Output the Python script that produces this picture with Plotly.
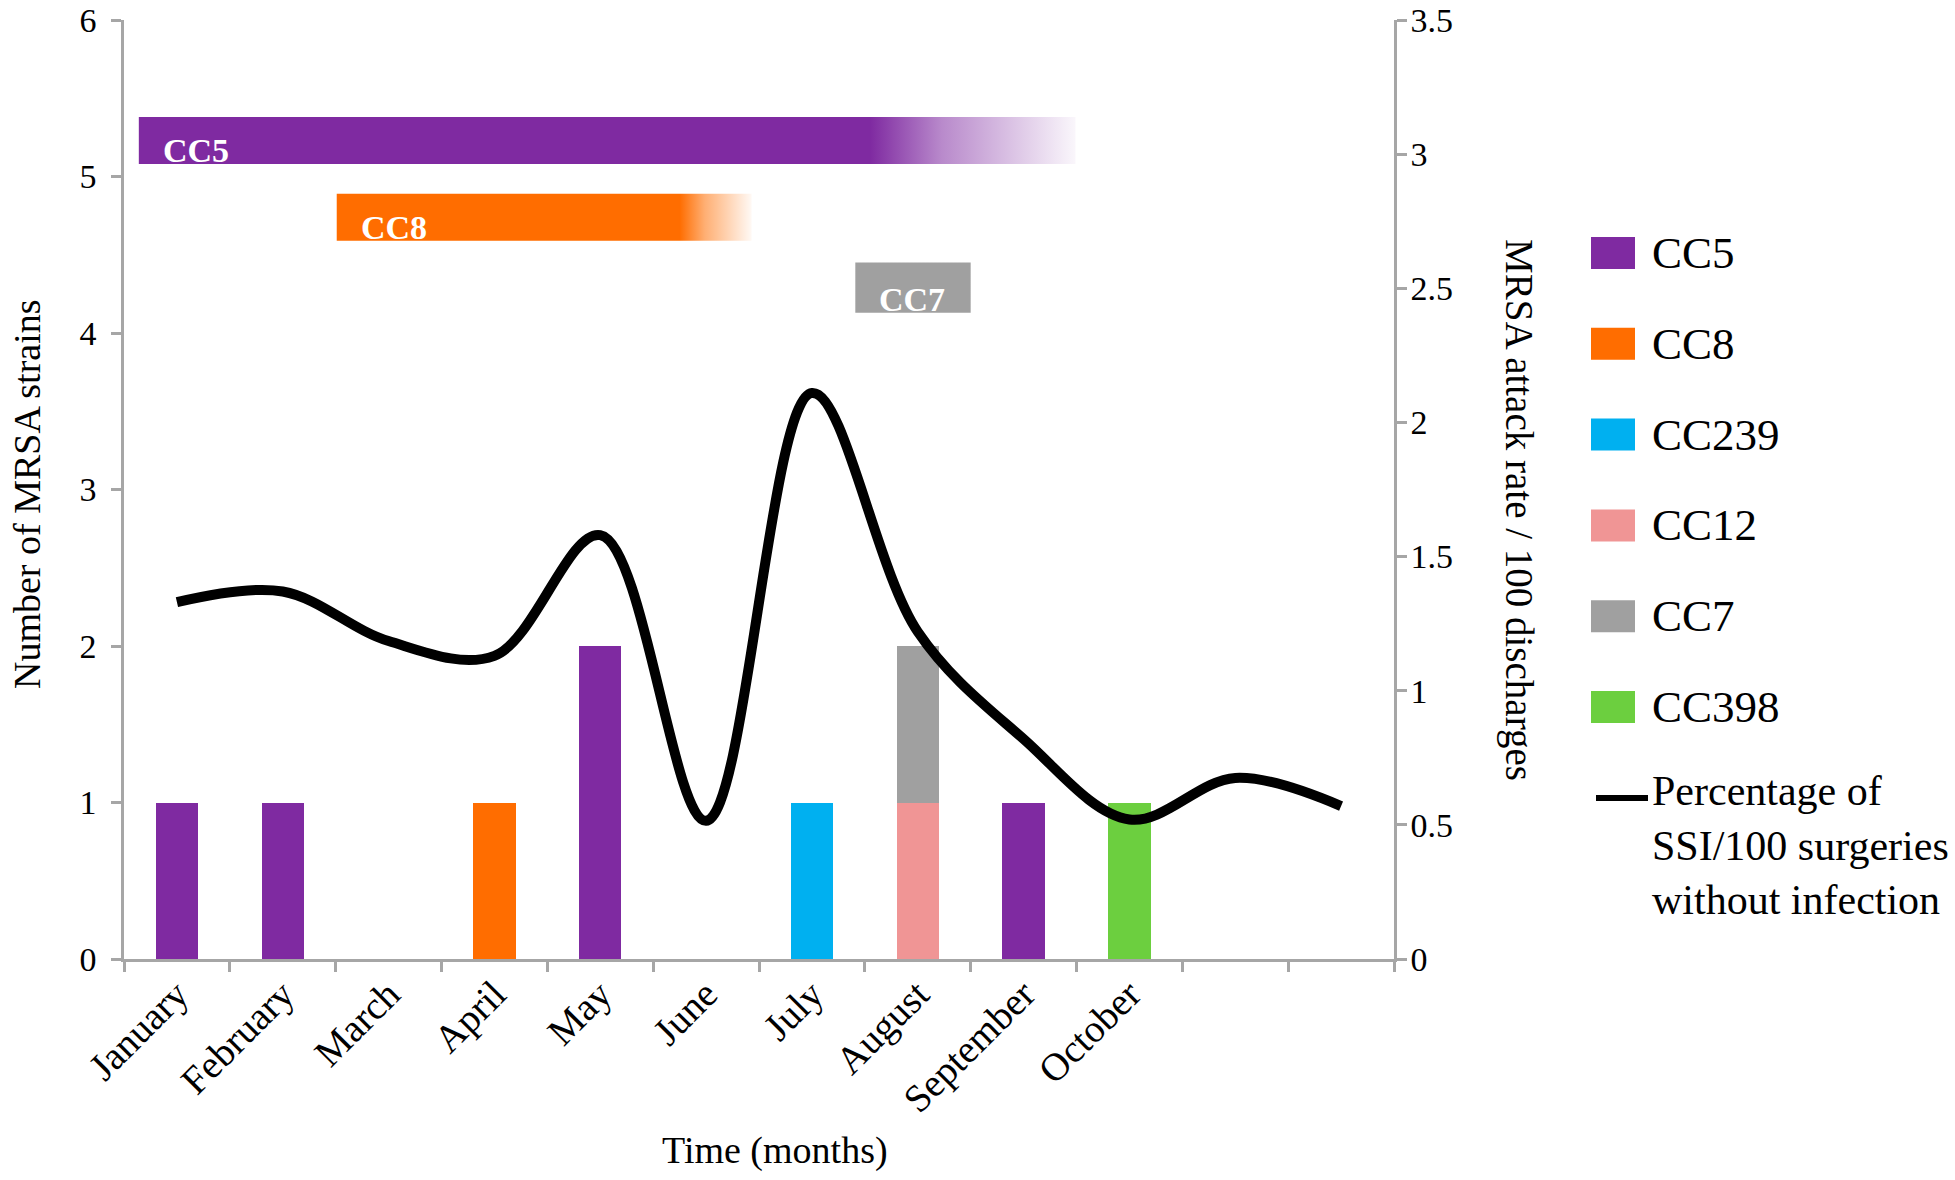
import plotly.graph_objects as go

# ---------------- data ----------------
months = ["January", "February", "March", "April", "May", "June", "July",
          "August", "September", "October", "November", "December"]
month_labels = ["January", "February", "March", "April", "May", "June", "July",
                "August", "September", "October", "", ""]

strains = ["CC5", "CC8", "CC239", "CC12", "CC7", "CC398"]
strain_colors = ["#7F2AA1", "#FF6D00", "#00B0F0", "#F09595", "#A0A0A0", "#6CCF3F"]

cc5 = [1, 1, 0, 0, 2, 0, 0, 0, 1, 0, 0, 0]
cc8 = [0, 0, 0, 1, 0, 0, 0, 0, 0, 0, 0, 0]
cc239 = [0, 0, 0, 0, 0, 0, 1, 0, 0, 0, 0, 0]
cc12 = [0, 0, 0, 0, 0, 0, 0, 1, 0, 0, 0, 0]
cc7 = [0, 0, 0, 0, 0, 0, 0, 1, 0, 0, 0, 0]
cc398 = [0, 0, 0, 0, 0, 0, 0, 0, 0, 1, 0, 0]
strain_counts = [cc5, cc8, cc239, cc12, cc7, cc398]

ssi_rate = [1.33, 1.37, 1.185, 1.13, 1.58, 0.515, 2.11, 1.22, 0.82, 0.52, 0.675, 0.57]
line_name = "Percentage of<br>SSI/100 surgeries<br>without infection"

# circulation periods of the strains (x: month index, y: left-axis units)
tl_names = ["CC5", "CC8", "CC7"]
tl_rgb = [(127, 42, 161), (255, 109, 0), (160, 160, 160)]
tl_start = [-0.36, 1.51, 6.41]
tl_solid_end = [6.55, 4.75, 7.50]
tl_end = [8.49, 5.43, 7.50]
tl_low = [5.08, 4.59, 4.13]
tl_high = [5.38, 4.89, 4.45]

# ---------------- layout helpers ----------------
L, R, T, B = 124, 1394, 20, 959
W, H = 1955, 1180
def px(x):
    return (x - L) / (R - L)
def py(y):
    return (B - y) / (B - T)

FONT = "Liberation Serif"
AX = "#A6A6A6"

fig = go.Figure()

for name, vals, col in zip(strains, strain_counts, strain_colors):
    fig.add_trace(go.Bar(x=months, y=vals, name=name, marker_color=col,
                         marker_line_width=0, xaxis="x", yaxis="y"))

for i, name in enumerate(tl_names):
    r, g, b = tl_rgb[i]
    c = f"rgba({r},{g},{b},1)"
    span = tl_end[i] - tl_start[i]
    frac = (tl_solid_end[i] - tl_start[i]) / span
    if frac >= 0.999:
        scale = [[0, c], [1, c]]
    else:
        scale = [[0, c], [frac, c], [frac + (1 - frac) * 0.35, f"rgba({r},{g},{b},0.55)"],
                 [1, f"rgba({r},{g},{b},0.04)"]]
    fig.add_trace(go.Scatter(
        x=[tl_start[i], tl_end[i], tl_end[i], tl_start[i], tl_start[i]],
        y=[tl_low[i], tl_low[i], tl_high[i], tl_high[i], tl_low[i]],
        fill="toself", mode="lines", line=dict(width=0),
        fillgradient=dict(type="horizontal", colorscale=scale),
        xaxis="x2", yaxis="y", showlegend=False, hoverinfo="skip"))
    fig.add_annotation(x=tl_start[i], y=tl_low[i], xref="x2", yref="y",
                       text=f"<b>{name}</b>", showarrow=False, xanchor="left",
                       yanchor="bottom", xshift=22, yshift=-7,
                       font=dict(family=FONT, size=34, color="white"))

fig.add_trace(go.Scatter(x=months, y=ssi_rate, mode="lines",
                         line=dict(color="black", width=10, shape="spline", smoothing=1.0),
                         xaxis="x", yaxis="y2", name="SSI"))

# ---------------- manual legend ----------------
for i, (name, col) in enumerate(zip(strains, strain_colors)):
    cy = 253 + 90.8 * i
    fig.add_shape(type="rect", xref="paper", yref="paper",
                  x0=px(1591), x1=px(1635), y0=py(cy + 16), y1=py(cy - 16),
                  fillcolor=col, line=dict(width=0))
    fig.add_annotation(xref="paper", yref="paper", x=px(1650), y=py(cy),
                       text=name, showarrow=False, xanchor="left", yanchor="middle",
                       font=dict(family=FONT, size=45, color="black"))
fig.add_shape(type="line", xref="paper", yref="paper",
              x0=px(1596), x1=px(1648), y0=py(798), y1=py(798),
              line=dict(color="black", width=6))
fig.add_annotation(xref="paper", yref="paper", x=px(1650), y=py(845),
                   text=line_name, showarrow=False, xanchor="left", yanchor="middle",
                   align="left", font=dict(family=FONT, size=42, color="black"))

# ---------------- axis titles ----------------
fig.add_annotation(xref="paper", yref="paper", x=px(27), y=py(494),
                   xanchor="center", yanchor="middle",
                   text="Number of MRSA strains", textangle=-90, showarrow=False,
                   font=dict(family=FONT, size=38, color="black"))
fig.add_annotation(xref="paper", yref="paper", x=px(1519), y=py(510),
                   xanchor="center", yanchor="middle",
                   text="MRSA attack rate / 100 discharges", textangle=90, showarrow=False,
                   font=dict(family=FONT, size=39, color="black"))
fig.add_annotation(xref="paper", yref="paper", x=px(775), y=py(1150),
                   xanchor="center", yanchor="middle",
                   text="Time (months)", showarrow=False,
                   font=dict(family=FONT, size=38, color="black"))

axis_common = dict(showline=True, linecolor=AX, linewidth=2.5, ticks="outside",
                   ticklen=10, tickwidth=2.5, tickcolor=AX, showgrid=False,
                   zeroline=False, ticklabeloverflow="allow")

fig.update_layout(
    width=W, height=H, barmode="stack", bargap=0.6,
    margin=dict(l=L, r=W - R, t=T, b=H - B, autoexpand=False),
    plot_bgcolor="white", paper_bgcolor="white", showlegend=False,
    font=dict(family=FONT, color="black"),
    xaxis=dict(type="category", categoryorder="array", categoryarray=months,
               tickmode="array", tickvals=months, ticktext=month_labels,
               tickangle=-45, tickson="boundaries", range=[-0.5, 11.5],
               ticklabelstandoff=-6,
               tickfont=dict(family=FONT, size=39, color="black"), **axis_common),
    xaxis2=dict(overlaying="x", anchor="y", range=[-0.5, 11.5], visible=False),
    yaxis=dict(range=[0, 6], dtick=1, tickfont=dict(family=FONT, size=34, color="black"),
               ticklabelstandoff=8, **axis_common),
    yaxis2=dict(overlaying="y", side="right", anchor="x", range=[0, 3.5], dtick=0.5,
                tickfont=dict(family=FONT, size=34, color="black"),
                ticklabelstandoff=-3, **axis_common),
)

fig.write_html("out.html", config={"displayModeBar": False},
               post_script="document.body.style.margin='0';document.body.style.overflow='hidden';")
